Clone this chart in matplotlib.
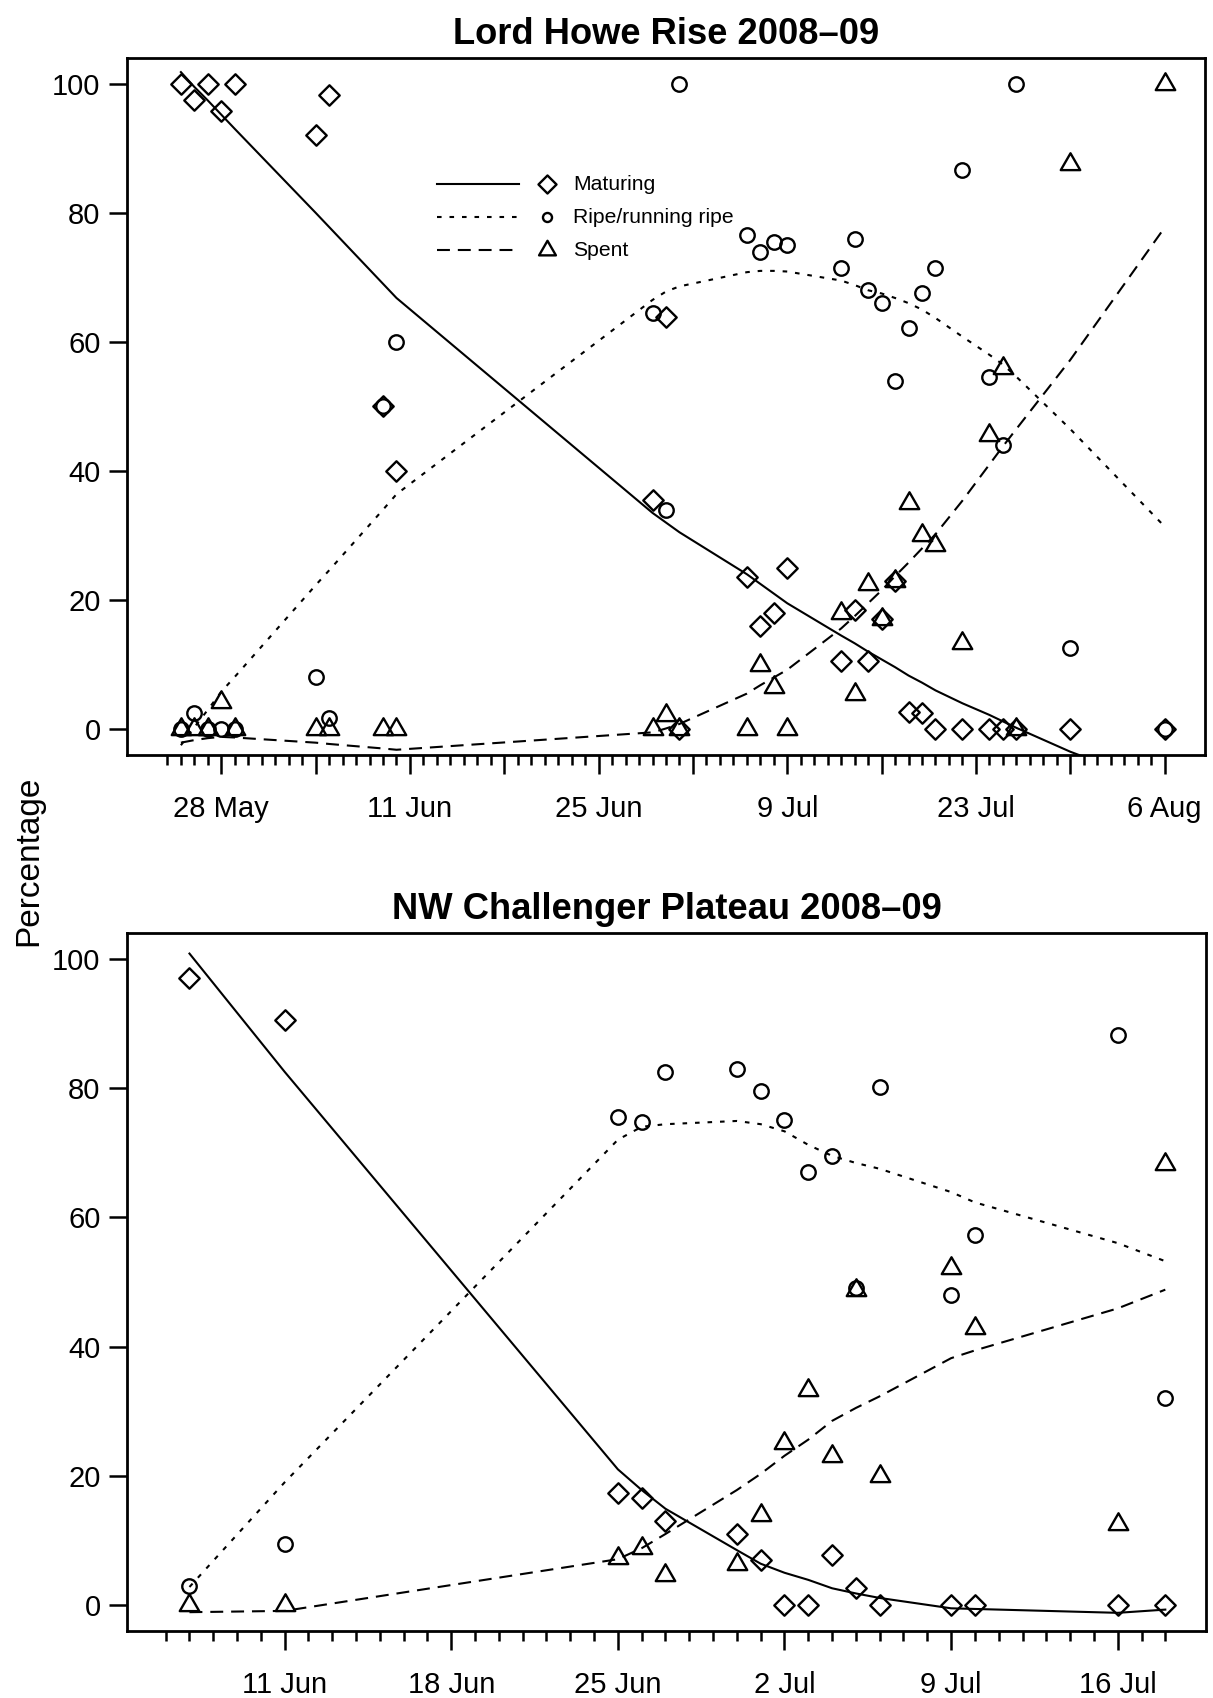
import pandas as pd
import matplotlib
matplotlib.use('Agg')
import matplotlib.pyplot as plt
import matplotlib.dates as mdates
from matplotlib.path import Path

plt.rcParams['font.family'] = ['Liberation Sans', 'DejaVu Sans']

# ---- Lord Howe Rise 2008-09: percentage of fish in each maturity stage ----
lhr_dates = ['2008-05-25', '2008-05-26', '2008-05-27', '2008-05-28', '2008-05-29',
             '2008-06-04', '2008-06-05', '2008-06-09', '2008-06-10', '2008-06-29',
             '2008-06-30', '2008-07-01', '2008-07-06', '2008-07-07', '2008-07-08',
             '2008-07-09', '2008-07-13', '2008-07-14', '2008-07-15', '2008-07-16',
             '2008-07-17', '2008-07-18', '2008-07-19', '2008-07-20', '2008-07-22',
             '2008-07-24', '2008-07-25', '2008-07-26', '2008-07-30', '2008-08-06']
lhr_maturing = [100, 97.5, 100, 95.8, 100, 92, 98.3, 50, 40, 35.5,
                63.8, 0, 23.5, 16, 18, 25, 10.5, 18.5, 10.5, 17,
                23, 2.7, 2.5, 0, 0, 0, 0, 0, 0, 0]
lhr_ripe = [0, 2.5, 0, 0, 0, 8, 1.7, 50, 60, 64.5,
            34, 100, 76.5, 74, 75.5, 75, 71.5, 76, 68, 66,
            54, 62.2, 67.5, 71.4, 86.7, 54.5, 44, 100, 12.5, 0]
lhr_spent = [0, 0, 0, 4.2, 0, 0, 0, 0, 0, 0,
             2.2, 0, 0, 10, 6.5, 0, 18, 5.5, 22.5, 17,
             23, 35.1, 30, 28.6, 13.3, 45.5, 56, 0, 87.5, 100]
# fitted curves (same dates)
lhr_fit_maturing = [101.8, 99.5, 97.4, 95.2, 93, 80, 77.8, 69, 66.8, 33.5,
                    32, 30.5, 24, 22.5, 21, 19.5, 14.5, 13.3, 12, 10.8,
                    9.6, 8.3, 7.2, 6, 4, 2.2, 1.2, 0.2, -3.5, -9]
lhr_fit_ripe = [-2.5, 0.3, 3, 5.8, 8.1, 22.3, 24.6, 34, 36.4, 66.5,
                67.8, 68.6, 70.8, 71, 71, 70.9, 69.5, 68.8, 68, 67.5,
                66.8, 66, 65, 63.7, 60.8, 58, 56.5, 54.6, 46.5, 31.4]
lhr_fit_spent = [-2.1, -1.7, -1.4, -1.2, -1.3, -2.1, -2.3, -3.0, -3.2, -0.5,
                 0.1, 0.8, 5.5, 6.8, 8, 9.2, 15.6, 17.5, 19.5, 21.5,
                 23.7, 25.8, 28, 30.2, 35.4, 41, 43.8, 46.5, 57.2, 77.7]

# ---- NW Challenger Plateau 2008-09 ----
ncp_dates = ['2008-06-07', '2008-06-11', '2008-06-25', '2008-06-26', '2008-06-27',
             '2008-06-30', '2008-07-01', '2008-07-02', '2008-07-03', '2008-07-04',
             '2008-07-05', '2008-07-06', '2008-07-09', '2008-07-10', '2008-07-16',
             '2008-07-18']
ncp_maturing = [97, 90.5, 17.3, 16.5, 13, 11, 7, 0, 0, 7.8, 2.7, 0, 0, 0, 0, 0]
ncp_ripe = [3, 9.5, 75.5, 74.8, 82.4, 83, 79.5, 75.1, 67, 69.5, 49.1, 80.2, 47.9, 57.3, 88.2, 32]
ncp_spent = [0, 0, 7.3, 8.8, 4.7, 6.4, 14, 25, 33.3, 23, 48.7, 20, 52.2, 42.8, 12.5, 68.2]
ncp_fit_maturing = [100.8, 82.5, 21, 17.8, 14.9, 8.5, 6.4, 5, 3.9, 2.6, 1.8, 1.1, -0.5, -0.6, -1.2, -0.7]
ncp_fit_ripe = [2.8, 19, 72, 74, 74.4, 74.9, 74.4, 73.3, 71.2, 69.5, 68.4, 67.5, 63.9, 62.3, 56, 53.2]
ncp_fit_spent = [-1.1, -0.9, 7.1, 8.8, 11, 17.8, 20.3, 23.1, 25.6, 28.5, 30.5, 32.3, 38.2, 39.4, 45.9, 48.8]

# axis ticks and labels
lhr_major = pd.date_range('2008-05-28', '2008-08-06', freq='7D')
lhr_labels = ['28 May', '', '11 Jun', '', '25 Jun', '', '9 Jul', '', '23 Jul', '', '6 Aug']
lhr_minor = pd.date_range('2008-05-24', '2008-08-06')
ncp_major = pd.date_range('2008-06-11', '2008-07-16', freq='7D')
ncp_labels = ['11 Jun', '18 Jun', '25 Jun', '2 Jul', '9 Jul', '16 Jul']
ncp_minor = pd.date_range('2008-06-06', '2008-07-18')

stage_names = ['Maturing', 'Ripe/running ripe', 'Spent']


def to_num(dates):
    return mdates.date2num(pd.to_datetime(dates).to_pydatetime())


# R style open symbols: pch 5 (diamond), pch 2 (triangle)
diamond = Path([(0, 1.414), (1.414, 0), (0, -1.414), (-1.414, 0), (0, 1.414)],
               [Path.MOVETO, Path.LINETO, Path.LINETO, Path.LINETO, Path.CLOSEPOLY])
triangle = Path([(0, 1.555), (1.347, -0.778), (-1.347, -0.778), (0, 1.555)],
                [Path.MOVETO, Path.LINETO, Path.LINETO, Path.CLOSEPOLY])
u = 5.2  # symbol radius in points
markers = [(diamond, 2 * 1.414 * u), ('o', 2 * u), (triangle, 2 * 1.555 * u)]
linestyles = ['-', (0, (2.2, 3.8)), (0, (6.2, 3.8))]
LW = 1.5


def draw_panel(ax, dates, values, fits, title, xlim, major, labels, minor):
    x = to_num(dates)
    for fit, ls in zip(fits, linestyles):
        ax.plot(x, fit, color='k', lw=LW, linestyle=ls)
    for vals, (mk, ms) in zip(values, markers):
        ax.plot(x, vals, ls='none', marker=mk, ms=ms, mfc='none', mec='k', mew=1.7)
    ax.set_xlim(to_num(xlim))
    ax.set_ylim(-4, 104)
    ax.set_yticks([0, 20, 40, 60, 80, 100])
    ax.set_xticks(to_num(major))
    ax.set_xticklabels(labels)
    ax.set_xticks(to_num(minor), minor=True)
    ax.tick_params(axis='x', which='major', length=14, width=1.8, pad=15, labelsize=21)
    ax.tick_params(axis='x', which='minor', length=7, width=1.8)
    ax.tick_params(axis='y', length=13, width=1.8, pad=6, labelsize=21)
    for sp in ax.spines.values():
        sp.set_linewidth(2)
    ax.set_title(title, fontsize=26.2, fontweight='bold', pad=10)


fig = plt.figure(figsize=(12.13, 16.98), dpi=100)
ax1 = fig.add_axes([0.1047, 0.5554, 0.8887, 0.4105])
ax2 = fig.add_axes([0.1047, 0.0395, 0.8895, 0.4111])

draw_panel(ax1, lhr_dates, [lhr_maturing, lhr_ripe, lhr_spent],
           [lhr_fit_maturing, lhr_fit_ripe, lhr_fit_spent],
           'Lord Howe Rise 2008\u201309', ['2008-05-21', '2008-08-09'],
           lhr_major, lhr_labels, lhr_minor)
draw_panel(ax2, ncp_dates, [ncp_maturing, ncp_ripe, ncp_spent],
           [ncp_fit_maturing, ncp_fit_ripe, ncp_fit_spent],
           'NW Challenger Plateau 2008\u201309', ['2008-06-04 09:00', '2008-07-19 17:00'],
           ncp_major, ncp_labels, ncp_minor)

# legend, drawn the way R lays it out: line, symbol, text
leg_ms = [13, 6.5, 14]
for i, (name, ls, (mk, _), ms) in enumerate(zip(stage_names, linestyles, markers, leg_ms)):
    y = 0.819 - i * 0.0475
    ax1.plot([0.2876, 0.3636], [y, y], transform=ax1.transAxes, color='k', lw=LW, linestyle=ls)
    ax1.plot([0.3896], [y], transform=ax1.transAxes, ls='none', marker=mk, ms=ms,
             mfc='none', mec='k', mew=1.7)
    ax1.text(0.4137, y, name, transform=ax1.transAxes, va='center', ha='left', fontsize=15.2)

fig.text(0.024, 1 - 861 / 1698, 'Percentage', rotation=90, va='center', ha='center', fontsize=24)

fig.savefig('out.png', dpi=100)
